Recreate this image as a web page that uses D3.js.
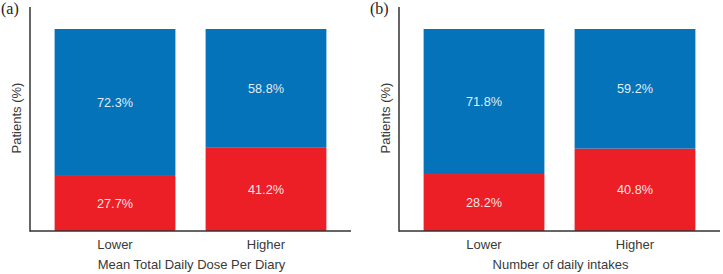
<!DOCTYPE html>
<html>
<head>
<meta charset="utf-8">
<script src="https://cdn.jsdelivr.net/npm/d3@7"></script>
<style>
  body { margin: 0; background: #fff; }
  svg text { font-family: "Liberation Sans", Arial, sans-serif; }
</style>
</head>
<body>
<div id="chart"></div>
<script>
// Chart data
const categories = ["Lower", "Higher"];
const panelTags = ["(a)", "(b)"];
const xTitles = ["Mean Total Daily Dose Per Diary", "Number of daily intakes"];
const redValues = [[27.7, 41.2], [28.2, 40.8]];   // bottom segment
const blueValues = [[72.3, 58.8], [71.8, 59.2]];  // top segment

const width = 723, height = 274;
const blue = "#0573b9", red = "#ec1f27";

const svg = d3.select("#chart")
    .append("svg")
    .attr("width", width)
    .attr("height", height);

// Shared vertical scale (100% fills the bar area)
const yScale = d3.scaleLinear()
    .domain([0, 100])
    .range([231, 29]);

const panelLeft = [30, 399];   // x of each y axis
const panelWidth = 321;

panelTags.forEach((tag, p) => {
    const x0 = panelLeft[p];
    const g = svg.append("g");

    const xScale = d3.scaleBand()
        .domain(categories)
        .range([x0, x0 + panelWidth])
        .paddingInner(0.2)
        .paddingOuter(0.163);

    const rows = categories.map((c, i) => ({
        cat: c,
        red: redValues[p][i],
        blue: blueValues[p][i]
    }));

    // Red (bottom) segments
    g.selectAll(".red")
        .data(rows)
        .enter()
        .append("rect")
        .attr("x", d => xScale(d.cat))
        .attr("y", d => yScale(d.red))
        .attr("width", xScale.bandwidth())
        .attr("height", d => yScale(0) - yScale(d.red))
        .attr("fill", red);

    // Blue (top) segments
    g.selectAll(".blue")
        .data(rows)
        .enter()
        .append("rect")
        .attr("x", d => xScale(d.cat))
        .attr("y", d => yScale(d.red + d.blue))
        .attr("width", xScale.bandwidth())
        .attr("height", d => yScale(d.red) - yScale(d.red + d.blue))
        .attr("fill", blue);

    // Value labels
    g.selectAll(".lbl-red")
        .data(rows)
        .enter()
        .append("text")
        .attr("x", d => xScale(d.cat) + xScale.bandwidth() / 2)
        .attr("y", d => (yScale(0) + yScale(d.red)) / 2 + 4.5)
        .attr("text-anchor", "middle")
        .style("font-size", "12.7px")
        .style("fill", "#fff")
        .style("fill-opacity", 0.9)
        .text(d => d.red.toFixed(1) + "%");

    g.selectAll(".lbl-blue")
        .data(rows)
        .enter()
        .append("text")
        .attr("x", d => xScale(d.cat) + xScale.bandwidth() / 2)
        .attr("y", d => (yScale(d.red) + yScale(d.red + d.blue)) / 2 + 4.5)
        .attr("text-anchor", "middle")
        .style("font-size", "12.7px")
        .style("fill", "#fff")
        .style("fill-opacity", 0.9)
        .text(d => d.blue.toFixed(1) + "%");

    // Axis lines
    g.append("line")
        .attr("x1", x0).attr("x2", x0)
        .attr("y1", 7).attr("y2", yScale(0) + 0.75)
        .attr("stroke", "#333")
        .attr("stroke-width", 1.5);

    g.append("line")
        .attr("x1", x0).attr("x2", x0 + panelWidth)
        .attr("y1", yScale(0)).attr("y2", yScale(0))
        .attr("stroke", "#333")
        .attr("stroke-width", 1.5);

    // Category tick labels
    g.selectAll(".tick-label")
        .data(categories)
        .enter()
        .append("text")
        .attr("x", d => xScale(d) + xScale.bandwidth() / 2)
        .attr("y", 249)
        .attr("text-anchor", "middle")
        .style("font-size", "13px")
        .style("fill", "#3a3a3a")
        .text(d => d);

    // X axis title
    g.append("text")
        .attr("x", x0 + panelWidth / 2 + 1)
        .attr("y", 269)
        .attr("text-anchor", "middle")
        .style("font-size", "13px")
        .style("fill", "#3a3a3a")
        .text(xTitles[p]);

    // Y axis title
    g.append("text")
        .attr("transform", `translate(${x0 - 9},${118}) rotate(-90)`)
        .attr("text-anchor", "middle")
        .style("font-size", "13px")
        .style("fill", "#3a3a3a")
        .text("Patients (%)");

    // Panel tag
    g.append("text")
        .attr("x", x0 - 29)
        .attr("y", 14)
        .style("font-family", "'Liberation Serif', 'Times New Roman', serif")
        .style("font-size", "16px")
        .style("fill", "#222")
        .text(tag);
});
</script>
</body>
</html>
